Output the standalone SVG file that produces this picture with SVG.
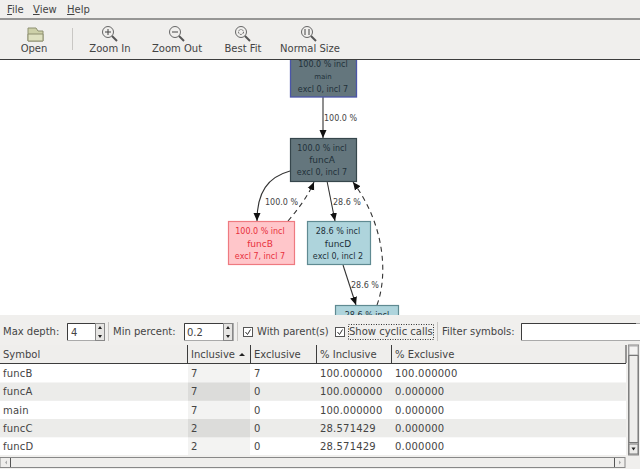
<svg xmlns="http://www.w3.org/2000/svg" width="640" height="469" viewBox="0 0 640 469">
<style>
text{font-family:"DejaVu Sans",sans-serif;font-size:10px;fill:#444}
.num{letter-spacing:.2px}
.n{font-size:8px;text-anchor:middle;fill:#22313a}
.l{font-size:8px;fill:#444}
.e{fill:none;stroke:#333;stroke-width:1.1}
.d{stroke-dasharray:5 4}
.sep{stroke:#c9c7c4;fill:none}
.dark{stroke:#3c3c3c;fill:none}
.ic{fill:none;stroke:#666;stroke-width:1}
.hd{fill:#efeeec}
</style>
<defs>
<marker id="a" markerWidth="9" markerHeight="9" refX="8" refY="4" orient="auto" markerUnits="userSpaceOnUse"><path d="M0 .5L8 4L0 7.500Z" fill="#111"/></marker>
<clipPath id="c"><rect x="0" y="60" width="640" height="255"/></clipPath>
</defs>
<rect width="640" height="469" fill="#f0efed"/>
<g id="menubar">
<text x="7" y="13"><tspan text-decoration="underline">F</tspan>ile</text>
<text x="33" y="13"><tspan text-decoration="underline">V</tspan>iew</text>
<text x="67" y="13"><tspan text-decoration="underline">H</tspan>elp</text>
<path class="dark" d="M0 19H640"/>
</g>
<g id="toolbar">
<path d="M28 28h8l2 3h5v10H28Z" fill="#cdd0a8" stroke="#8e9070"/>
<path d="M28 34h15v7H28Z" fill="#dfe1c0" stroke="#8e9070"/>
<text x="34" y="52" text-anchor="middle">Open</text>
<path class="sep" d="M72.500 28V50"/>
<circle class="ic" cx="108" cy="32" r="5.500"/><path d="M112 36l5 5" stroke="#555" stroke-width="2"/><path d="M105 32h6M108 29v6" stroke="#444"/>
<text x="110" y="52" text-anchor="middle">Zoom In</text>
<circle class="ic" cx="175" cy="32" r="5.500"/><path d="M179 36l5 5" stroke="#555" stroke-width="2"/><path d="M172 32h6" stroke="#444"/>
<text x="177" y="52" text-anchor="middle">Zoom Out</text>
<circle class="ic" cx="241" cy="32" r="5.500"/><path d="M245 36l5 5" stroke="#555" stroke-width="2"/><circle class="ic" cx="241" cy="32" r="2.500" stroke-dasharray="2 1"/>
<text x="243" y="52" text-anchor="middle">Best Fit</text>
<circle class="ic" cx="307" cy="32" r="5.500"/><path d="M311 36l5 5" stroke="#555" stroke-width="2"/><path d="M305 29v6M309 29v6" stroke="#444"/>
<text x="310" y="52" text-anchor="middle">Normal Size</text>
<path class="dark" d="M0 59.500H640"/>
</g>
<rect y="60" width="640" height="255" fill="#fff"/>
<g clip-path="url(#c)">
<g id="connectors">
<path class="e" d="M323 97V138" marker-end="url(#a)"/>
<path class="e" d="M290 171C268 177 257 192 257 221" marker-end="url(#a)"/>
<path class="e d" d="M288 221C299 208 308 196 314 182" marker-end="url(#a)"/>
<path class="e" d="M327 181L335 221" marker-end="url(#a)"/>
<path class="e" d="M343 265L356 305" marker-end="url(#a)"/>
<path class="e d" d="M377 305C388 275 385 225 353 182" marker-end="url(#a)"/>
<text class="l" x="324" y="121">100.0 %</text>
<text class="l" x="265" y="205">100.0 %</text>
<text class="l" x="333" y="205">28.6 %</text>
<text class="l" x="351" y="288">28.6 %</text>
</g>
<g id="main"><rect x="290.500" y="50" width="66" height="47" fill="#64767d" stroke="#4a55a8" stroke-width="1.300"/>
<text class="n" x="323" y="67">100.0 % incl</text><text class="n" x="323" y="79" style="font-size:7px">main</text><text class="n" x="323" y="92">excl 0, incl 7</text></g>
<g id="funcA"><rect x="290.500" y="138.500" width="66" height="43" fill="#64767d" stroke="#36464c" stroke-width="1.200"/>
<text class="n" x="322" y="150.500">100.0 % incl</text><text class="n" x="322" y="163" style="font-size:9px">funcA</text><text class="n" x="322" y="175">excl 0, incl 7</text></g>
<g id="funcB"><rect x="228.500" y="221.500" width="66" height="43" fill="#ffc6ca" stroke="#ee7a80" stroke-width="1.200"/>
<text class="n" x="260" y="234" style="fill:#e8303c">100.0 % incl</text><text class="n" x="260" y="246.500" style="font-size:9px;fill:#e8303c">funcB</text><text class="n" x="260" y="259" style="fill:#e8303c">excl 7, incl 7</text></g>
<g id="funcD"><rect x="307.500" y="221.500" width="63" height="43" fill="#aed4dc" stroke="#5f8a92" stroke-width="1.200"/>
<text class="n" x="338" y="234">28.6 % incl</text><text class="n" x="338" y="246.500" style="font-size:9px">funcD</text><text class="n" x="338" y="259">excl 0, incl 2</text></g>
<g id="funcC"><rect x="335.500" y="305.500" width="63" height="43" fill="#aed4dc" stroke="#5f8a92" stroke-width="1.200"/>
<text class="n" x="367" y="318">28.6 % incl</text></g>
</g>
<g id="controls">
<path d="M309 315.500H333" stroke="#333" stroke-dasharray="1 1.500"/>
<rect y="315" width="640" height="30" fill="#f0efed"/>
<text x="3" y="335">Max depth:</text>
<rect x="67.500" y="323.500" width="37" height="17" fill="#fff" stroke="#aaa"/><path class="dark" d="M67.500 340V323.500H104"/>
<text x="71" y="336">4</text>
<rect x="95.500" y="323.500" width="9" height="17" fill="#e6e5e3" stroke="#888"/><path d="M98 329l2-3 2 3ZM98 335l2 3 2-3Z" fill="#222"/>
<path class="sep" d="M108.500 322V341"/>
<text x="113" y="335">Min percent:</text>
<rect x="184.500" y="323.500" width="49" height="17" fill="#fff" stroke="#aaa"/><path class="dark" d="M184.500 340V323.500H233"/>
<text x="187" y="336">0.2</text>
<rect x="223.500" y="323.500" width="9" height="17" fill="#e6e5e3" stroke="#888"/><path d="M226 329l2-3 2 3ZM226 335l2 3 2-3Z" fill="#222"/>
<path class="sep" d="M237.500 322V341"/>
<rect x="243.500" y="327.500" width="9" height="9" fill="#fff" stroke="#555"/><path d="M245.500 332l2 2.500 3-5" fill="none" stroke="#333"/>
<text x="257" y="335">With parent(s)</text>
<rect x="335.500" y="327.500" width="9" height="9" fill="#fff" stroke="#555"/><path d="M337.500 332l2 2.500 3-5" fill="none" stroke="#333"/>
<rect x="348.500" y="324.500" width="85" height="15" fill="none" stroke="#333" stroke-dasharray="1 1.500"/>
<text x="349" y="335">Show cyclic calls</text>
<path class="sep" d="M437.500 322V341"/>
<text x="442" y="335">Filter symbols:</text>
<rect x="521.500" y="323.500" width="120" height="17" fill="#fff" stroke="#aaa"/><path class="dark" d="M521.500 340V323.500H636"/>
</g>
<g id="table">
<rect y="345" width="626" height="19" class="hd"/>
<path class="dark" d="M0 363.500H626M187.500 345V363M250.500 345V363M316.500 345V363M391.500 345V363"/>
<path d="M626 345V363" class="dark"/>
<rect y="364" width="626" height="91" fill="#fff"/>
<rect y="382.500" width="626" height="18.300" fill="#ececea"/>
<rect y="419" width="626" height="18.300" fill="#ececea"/>
<rect x="188" y="364" width="62" height="91" fill="#f3f3f2"/>
<rect x="188" y="382.500" width="62" height="18.300" fill="#dcdcda"/>
<rect x="188" y="419" width="62" height="18.300" fill="#dcdcda"/>
<text x="3" y="358">Symbol</text>
<text x="191" y="358">Inclusive</text><path d="M239 356l3-3 3 3Z" fill="#222"/>
<text x="254" y="358">Exclusive</text>
<text x="320" y="358">% Inclusive</text>
<text x="395" y="358">% Exclusive</text>
<g class="num">
<text x="3" y="377">funcB</text><text x="191" y="377">7</text><text x="254" y="377">7</text><text x="320" y="377">100.000000</text><text x="395" y="377">100.000000</text>
<text x="3" y="395">funcA</text><text x="191" y="395">7</text><text x="254" y="395">0</text><text x="320" y="395">100.000000</text><text x="395" y="395">0.000000</text>
<text x="3" y="414">main</text><text x="191" y="414">7</text><text x="254" y="414">0</text><text x="320" y="414">100.000000</text><text x="395" y="414">0.000000</text>
<text x="3" y="432">funcC</text><text x="191" y="432">2</text><text x="254" y="432">0</text><text x="320" y="432">28.571429</text><text x="395" y="432">0.000000</text>
<text x="3" y="450">funcD</text><text x="191" y="450">2</text><text x="254" y="450">0</text><text x="320" y="450">28.571429</text><text x="395" y="450">0.000000</text>
</g>
</g>
<g id="scrollbars">
<rect x="628.500" y="345" width="10" height="110" fill="#e4e3e1" stroke="#888"/>
<rect x="629" y="346" width="9" height="9" fill="#f4f3f2" stroke="#aaa"/>
<rect x="629" y="355.500" width="9" height="87" fill="#efeeec" stroke="#777"/>
<rect x="629" y="444" width="9" height="10" fill="#ecebe9" stroke="#777"/><path d="M631.500 447.500l2 3 2-3Z" fill="#222"/>
<rect x="0" y="457.500" width="625" height="10" fill="#efeeec" stroke="#888"/>
<path d="M10.500 458V467M614.500 458V467" stroke="#555"/>
<path d="M7 460.500l-2 2 2 2ZM619 460.500l2 2-2 2Z" fill="#aaa"/>
</g>
</svg>
